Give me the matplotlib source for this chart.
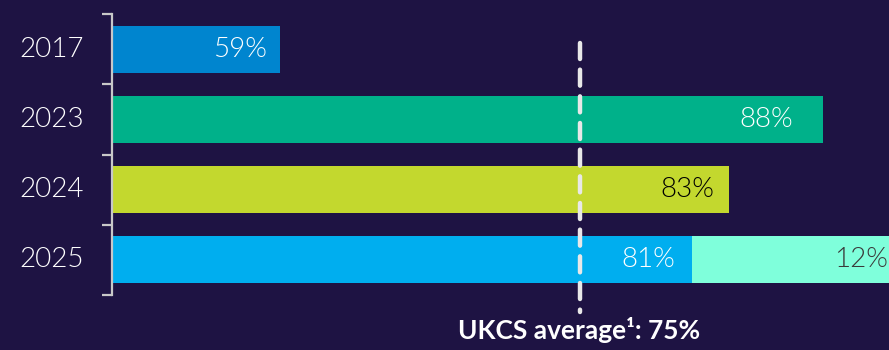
import numpy as np
import matplotlib.pyplot as plt

# scores by year, 2025 has an extra stacked segment
years = ['2017', '2023', '2024', '2025']
scores = [59, 88, 83, 81]
extra = [0, 0, 0, 12]
ukcs_avg = 75

bar_colors = ['#0085cf', '#00b18a', '#c3d82e', '#00aeef']
text_colors = ['white', 'white', 'black', 'white']
extra_color = '#7fffdb'
bg = '#1e1343'

plt.rcParams['font.family'] = ['Lato', 'DejaVu Sans']

fig = plt.figure(figsize=(8.89, 3.5), dpi=100, facecolor=bg)
ax = fig.add_axes([112/889, 55/350, 777/889, 281/350])
ax.set_facecolor(bg)

y = np.arange(len(years))
ax.barh(y, scores, left=0, height=0.67, color=bar_colors)
ax.barh(y, extra, left=scores, height=0.67, color=extra_color)

ax.set_xlim(50, 91.55)
ax.set_ylim(3.5, -0.5)

# value labels sit just inside the bar end
pads = [-10, -21, -11, -12]
for i, v in enumerate(scores):
    ax.annotate('%d%%' % v, xy=(v, i), xytext=(pads[i], 0), textcoords='offset points',
                ha='right', va='center', color=text_colors[i], fontsize=20, fontweight=300)
for i, e in enumerate(extra):
    if e:
        ax.annotate('%d%%' % e, xy=(scores[i] + e, i), xytext=(-20, 0), textcoords='offset points',
                    ha='right', va='center', color='#3a3a3a', fontsize=20, fontweight=300,
                    annotation_clip=False)

# average marker
ax.plot([ukcs_avg, ukcs_avg], [-0.09, 3.74], color='#e8e8e8', lw=3.2, ls=(0, (3.6, 2.4)),
        dash_capstyle='round', solid_capstyle='round', clip_on=False, zorder=5)
ax.text(ukcs_avg, 4.12, 'UKCS average¹: 75%', ha='center', va='baseline', color='white',
        fontsize=19, fontweight='bold', clip_on=False)

# bracket-style y axis
for s in ['top', 'right', 'bottom']:
    ax.spines[s].set_visible(False)
ax.spines['left'].set_color('#c8c8c8')
ax.spines['left'].set_linewidth(1.6)
ax.set_xticks([])
ax.set_yticks(np.arange(-0.5, len(years)), minor=False)
ax.set_yticklabels([])
ax.tick_params(axis='y', length=7, width=1.6, color='#c8c8c8')
for i, yr in enumerate(years):
    ax.text(-0.036, i, yr, transform=ax.get_yaxis_transform(), ha='right', va='center',
            color='white', fontsize=20, fontweight=300)

fig.savefig('out.png', facecolor=bg)
